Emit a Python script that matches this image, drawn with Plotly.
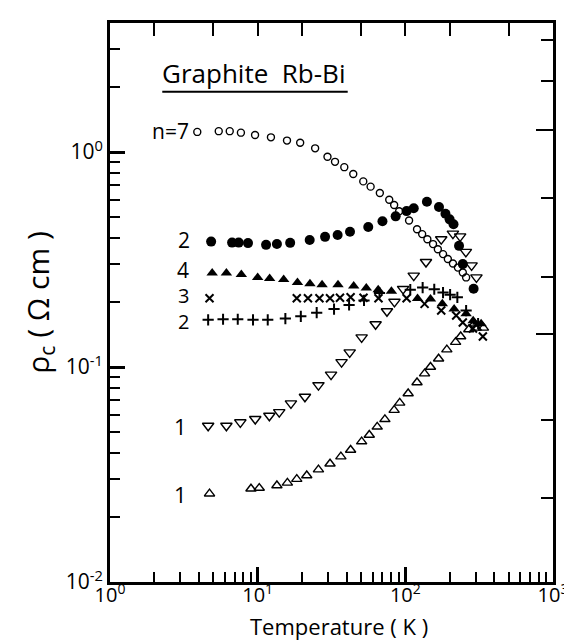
import plotly.graph_objects as go

# ---------------- data ----------------
T_n7 = [3.9, 5.45, 6.47, 7.7, 9.6, 12.3, 15.8, 19.4, 24.5, 29.7, 33.4, 38.6, 44.4, 51.9, 58.2,
        67.2, 77.8, 84, 90.8, 106, 120, 130, 141, 154, 166, 180, 194, 210, 227, 245, 258]
R_n7 = [1.24, 1.25, 1.25, 1.23, 1.20, 1.17, 1.13, 1.105, 1.04, 0.95, 0.90, 0.85, 0.79, 0.73, 0.69,
        0.645, 0.60, 0.567, 0.53, 0.48, 0.437, 0.415, 0.393, 0.373, 0.353, 0.335, 0.318, 0.303, 0.29, 0.275, 0.261]

T_n2_dot = [4.84, 6.71, 7.44, 8.6, 11.4, 13.5, 16.6, 22.5, 28.6, 34.8, 42.2, 56.1, 70, 86, 102, 114,
            140, 169, 187, 199.5, 212, 231, 245, 290]
R_n2_dot = [0.383, 0.379, 0.379, 0.377, 0.370, 0.373, 0.378, 0.390, 0.403, 0.411, 0.426, 0.448, 0.476,
            0.502, 0.531, 0.547, 0.587, 0.555, 0.516, 0.486, 0.461, 0.366, 0.301, 0.231]

T_n4 = [4.92, 6.14, 7.75, 10.0, 12.05, 15.0, 18.6, 22.6, 27.3, 35.0, 44.7, 54.4, 65.5, 80.5, 121, 148,
        178, 214, 258, 288, 326]
R_n4 = [0.2735, 0.2735, 0.269, 0.261, 0.258, 0.255, 0.2475, 0.244, 0.2415, 0.2415, 0.238, 0.233, 0.229,
        0.225, 0.208, 0.207, 0.197, 0.186, 0.177, 0.164, 0.159]

T_n3 = [4.72, 18.4, 21.9, 26.2, 30.9, 36.1, 42.6, 52.1, 65.8, 102, 135, 175, 221, 245, 287, 335]
R_n3 = [0.209, 0.209, 0.209, 0.209, 0.209, 0.210, 0.211, 0.210, 0.209, 0.209, 0.1966, 0.183, 0.1735,
        0.161, 0.151, 0.1387]

T_n2_plus = [4.62, 5.83, 7.33, 9.3, 11.7, 15.4, 19.6, 25.1, 32.9, 41.6, 52.5, 66.8, 108, 131, 157, 180,
             201, 225, 258, 311]
R_n2_plus = [0.1657, 0.1668, 0.1668, 0.1657, 0.1657, 0.168, 0.172, 0.179, 0.186, 0.1945, 0.204, 0.221,
             0.229, 0.234, 0.230, 0.222, 0.217, 0.211, 0.183, 0.159]

T_n1_down = [4.62, 6.14, 7.63, 9.63, 12.0, 14.0, 16.8, 20.9, 25.8, 31.4, 37.0, 42.0, 50.6, 62.9, 75.1,
             84.4, 96.6, 114, 138, 175, 210, 235, 257, 281, 303]
R_n1_down = [0.0533, 0.0533, 0.0553, 0.0573, 0.0593, 0.0617, 0.0677, 0.0727, 0.0823, 0.0922, 0.1054,
             0.117, 0.1373, 0.158, 0.1817, 0.201, 0.2307, 0.266, 0.3077, 0.393, 0.417, 0.405, 0.343,
             0.297, 0.261]

T_n1_up = [4.72, 9.01, 10.25, 13.5, 15.9, 18.4, 21.5, 25.8, 30.9, 36.6, 42.6, 50.6, 57.0, 64.5, 72.7,
           84.0, 91.6, 104.5, 120, 135, 148, 168, 191, 219, 237, 269, 294, 302, 338]
R_n1_up = [0.02575, 0.02716, 0.02735, 0.02812, 0.0289, 0.0301, 0.0313, 0.0333, 0.0355, 0.0383, 0.0411,
           0.045, 0.0483, 0.0527, 0.0571, 0.063, 0.0681, 0.0753, 0.0847, 0.0932, 0.100, 0.1093, 0.1204,
           0.1305, 0.1387, 0.1495, 0.1589, 0.152, 0.152]

x_major = [1, 10, 100, 1000]
x_major_text = ["10<sup>0</sup>", "10<sup>1</sup>", "10<sup>2</sup>", "10<sup>3</sup>"]
y_major = [0.01, 0.1, 1]
y_major_text = ["10<sup>-2</sup>", "10<sup>-1</sup>", "10<sup>0</sup>"]
minor_digits = [2, 3, 4, 5, 6, 7, 8, 9]
top_ticks = [2, 5, 10, 20, 50, 100, 200, 500]
right_long = [1.27, 0.143]
right_short = [3.31, 2.15, 0.612, 0.261, 0.0567, 0.0246]

labels = [("n=7", 0.183, 0.8065, 21), ("2", 0.185, 0.612, 21), ("4", 0.182, 0.5575, 21),
          ("3", 0.182, 0.512, 20), ("2", 0.182, 0.4655, 20), ("1", 0.179, 0.2792, 22),
          ("1", 0.178, 0.1583, 22)]

# ---------------- figure ----------------
FONT = "Open Sans"
fig = go.Figure()

def add(x, y, symbol, size, lw=1.4):
    fig.add_trace(go.Scatter(x=x, y=y, mode="markers", showlegend=False, hoverinfo="skip",
                             marker=dict(symbol=symbol, size=size, color="black",
                                         line=dict(color="black", width=lw))))

add(T_n7, R_n7, "circle-open", 7)
add(T_n2_dot, R_n2_dot, "circle", 10, 0)
add(T_n4, R_n4, "triangle-up", 10, 0)
add(T_n3, R_n3, "x-thin-open", 8, 2)
add(T_n2_plus, R_n2_plus, "cross-thin-open", 8, 2)
add(T_n1_down, R_n1_down, "triangle-down-open", 10)
add(T_n1_up, R_n1_up, "triangle-up-open", 9)

# empty trace on the secondary axes so that the top/right tick sets are drawn
fig.add_trace(go.Scatter(x=[None], y=[None], xaxis="x2", yaxis="y2", mode="markers",
                         showlegend=False, hoverinfo="skip"))

minor_x = [d * 10 ** k for k in range(0, 3) for d in minor_digits]
minor_y = [d * 10 ** k for k in range(-2, 1) for d in minor_digits]

fig.update_layout(
    width=572, height=642,
    margin=dict(l=102, r=25, t=12, b=68),
    paper_bgcolor="white", plot_bgcolor="white",
    font=dict(family=FONT, color="black"),
    xaxis=dict(type="log", range=[0, 3], showgrid=False, zeroline=False,
               showline=True, linecolor="black", linewidth=3, mirror=True,
               ticks="inside", ticklen=15, tickwidth=2.5, tickcolor="black",
               tickmode="array", tickvals=x_major, ticktext=x_major_text,
               tickfont=dict(size=20, family=FONT), ticklabelstandoff=-7,
               minor=dict(ticks="inside", ticklen=10, tickwidth=2, tickcolor="black",
                          tickmode="array", tickvals=minor_x)),
    yaxis=dict(type="log", range=[-2, 0.6], showgrid=False, zeroline=False,
               showline=True, linecolor="black", linewidth=3, mirror=True,
               ticks="inside", ticklen=15, tickwidth=2.5, tickcolor="black",
               tickmode="array", tickvals=y_major, ticktext=y_major_text,
               tickfont=dict(size=21, family=FONT),
               minor=dict(ticks="inside", ticklen=10, tickwidth=2, tickcolor="black",
                          tickmode="array", tickvals=minor_y)),
    xaxis2=dict(type="log", range=[0, 3], overlaying="x", side="top", anchor="y2",
                showgrid=False, zeroline=False, showline=False,
                ticks="inside", ticklen=13, tickwidth=2, tickcolor="black",
                tickmode="array", tickvals=top_ticks, showticklabels=False),
    yaxis2=dict(type="log", range=[-2, 0.6], overlaying="y", side="right", anchor="x2",
                showgrid=False, zeroline=False, showline=False,
                ticks="inside", ticklen=17, tickwidth=2, tickcolor="black",
                tickmode="array", tickvals=right_long, showticklabels=False,
                minor=dict(ticks="inside", ticklen=12, tickwidth=2, tickcolor="black",
                           tickmode="array", tickvals=right_short)),
)

# axis titles
fig.add_annotation(text="Temperature ( K )", xref="paper", yref="paper", x=0.516, y=-0.0782,
                   showarrow=False, font=dict(size=22, family=FONT), xanchor="center", yanchor="middle")
fig.add_annotation(text="ρ<sub>c</sub> ( Ω cm )", xref="paper", yref="paper", x=-0.162, y=0.50,
                   showarrow=False, textangle=-90, font=dict(size=30, family=FONT),
                   xanchor="center", yanchor="middle")

# title of panel
fig.add_annotation(text="Graphite  Rb-Bi", xref="paper", yref="paper", x=0.323, y=0.9105,
                   showarrow=False, font=dict(size=26, family=FONT), xanchor="center", yanchor="middle")
fig.add_shape(type="line", xref="paper", yref="paper", x0=0.118, x1=0.5366, y0=0.8768, y1=0.8768,
              line=dict(color="black", width=2))

for txt, xp, yp, fs in labels:
    fig.add_annotation(text=txt, xref="paper", yref="paper", x=xp, y=yp, showarrow=False,
                       xanchor="right", yanchor="middle", font=dict(size=fs, family=FONT))

fig.write_html("out.html")
